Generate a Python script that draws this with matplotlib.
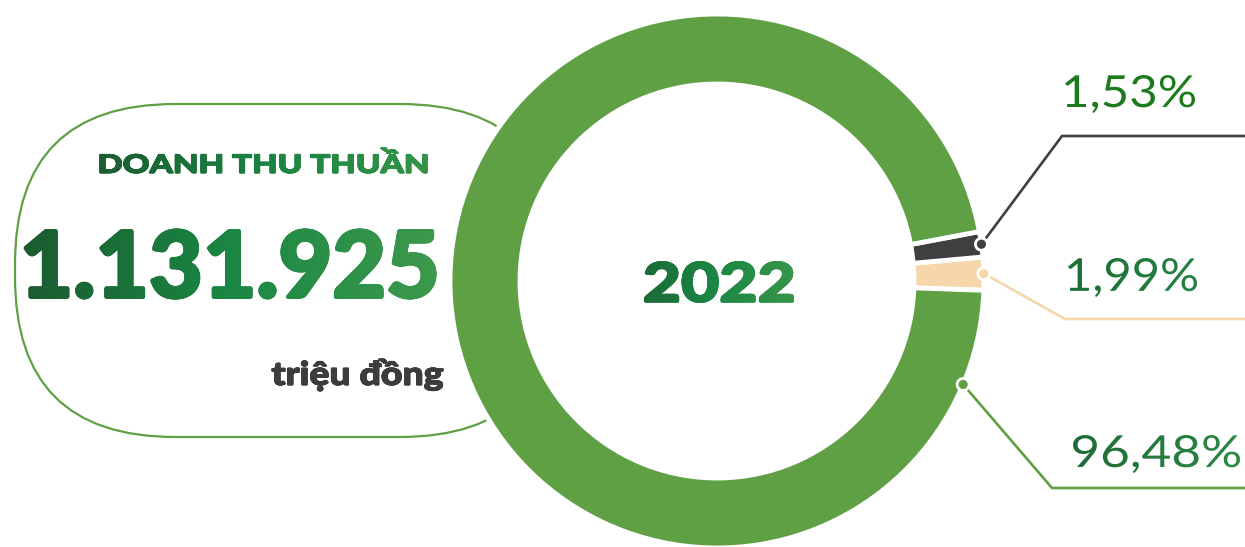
import numpy as np
import matplotlib
matplotlib.use('Agg')
import matplotlib.pyplot as plt
from matplotlib.patches import FancyBboxPatch, PathPatch, Circle
from matplotlib.textpath import TextPath
from matplotlib.font_manager import FontProperties
from matplotlib.transforms import Affine2D
from matplotlib.colors import LinearSegmentedColormap

W, H = 1245, 547

# data
segments = ['Khác 1', 'Khác 2', 'Chính']
shares = [1.99, 1.53, 96.48]
share_labels = ['1,99%', '1,53%', '96,48%']
seg_colors = ['#f5d7ab', '#3f3f42', '#5fa045']
title = 'DOANH THU THUẦN'
total_text = '1.131.925'
unit_text = 'triệu đồng'
year_text = '2022'

fig = plt.figure(figsize=(W / 100, H / 100), dpi=100)
ax = fig.add_axes([0, 0, 1, 1])


def fit_text(s, box, colors, weight='black', family='Lato', z=6, bold=0.0):
    # box in pixel coords (x0, top, x1, bottom), text stretched to fill it, gradient fill
    x0, t, x1, b = box
    fp = FontProperties(family=family, weight=weight)
    tp = TextPath((0, 0), s, size=100, prop=fp)
    ext = tp.get_extents()
    tr = (Affine2D().translate(-ext.x0, -ext.y0)
          .scale((x1 - x0) / ext.width, (b - t) / ext.height)
          .translate(x0, H - b))
    path = tr.transform_path(tp)
    cmap = LinearSegmentedColormap.from_list('g', colors)
    grad = np.linspace(0, 1, 256).reshape(1, -1)
    # extra shifted copies make the glyphs a little heavier
    shifts = [(0, 0)]
    if bold > 0:
        shifts += [(bold * np.cos(a), bold * np.sin(a))
                   for a in np.linspace(0, 2 * np.pi, 12, endpoint=False)]
    for dx, dy in shifts:
        p = Affine2D().translate(dx, dy).transform_path(path)
        clip = PathPatch(p, facecolor='none', edgecolor='none')
        ax.add_patch(clip)
        im = ax.imshow(grad, cmap=cmap, extent=(x0 - 4, x1 + 4, H - b - 4, H - t + 4),
                       aspect='auto', zorder=z, interpolation='bilinear')
        im.set_clip_path(clip)


# pill behind the donut
pill = FancyBboxPatch((15 + 160, H - 437 + 160), 560 - 15 - 320, 333 - 320,
                      boxstyle='round,pad=160', facecolor='white',
                      edgecolor='#5fa045', linewidth=1.6, zorder=1)
ax.add_patch(pill)

# donut
cx, cy, R = 717, H - 281, 267
wedges, _ = ax.pie(shares, colors=seg_colors, startangle=-2.0, counterclock=True,
                   center=(cx, cy), radius=R,
                   wedgeprops=dict(width=70, edgecolor='white', linewidth=3.5))
for w in wedges:
    w.set_zorder(3)
ax.add_patch(Circle((cx, cy), R - 70, facecolor='white', edgecolor='none', zorder=2.5))

# leader lines
ends = {
    '1,53%': (1062, 136),
    '1,99%': (1065, 319),
    '96,48%': (1052, 488),
}
for i, (w, lab) in enumerate(zip(wedges, share_labels)):
    if lab == '96,48%':
        ang = np.deg2rad(-22.8)
    else:
        ang = np.deg2rad((w.theta1 + w.theta2) / 2)
    px, py = cx + R * np.cos(ang), cy + R * np.sin(ang)
    ex, ey = ends[lab]
    ax.plot([px, ex, W + 5], [py, H - ey, H - ey], color=seg_colors[i],
            lw=1.9, zorder=2, solid_capstyle='butt')
    ax.add_patch(Circle((px, py), 6, facecolor=seg_colors[i], edgecolor='white',
                        linewidth=2, zorder=4))

# texts
fit_text(title, (100, 148, 427, 173), ['#1b5c31', '#1c8343', '#359449'], bold=0.6)
fit_text(total_text, (25, 230, 435, 298), ['#1a5b30', '#1b8744', '#3d994c'], bold=1.6)
fit_text(unit_text, (272, 359, 443, 391), ['#3d3d40', '#3d3d40'], bold=0.5)
fit_text(year_text, (645, 262, 793, 302), ['#1c6a37', '#1b8945', '#3a954b'], bold=1.0)
fit_text('1,53%', (1065, 75, 1195, 113), ['#1d7b1d', '#1d7b1d'], weight='normal')
fit_text('1,99%', (1068, 258, 1197, 297), ['#1c6e36', '#248343'], weight='normal')
fit_text('96,48%', (1073, 435, 1240, 473), ['#1d6a37', '#2c8a46'], weight='normal')

ax.set_xlim(0, W)
ax.set_ylim(0, H)
ax.axis('off')
fig.savefig('out.png', dpi=100, facecolor='white')
